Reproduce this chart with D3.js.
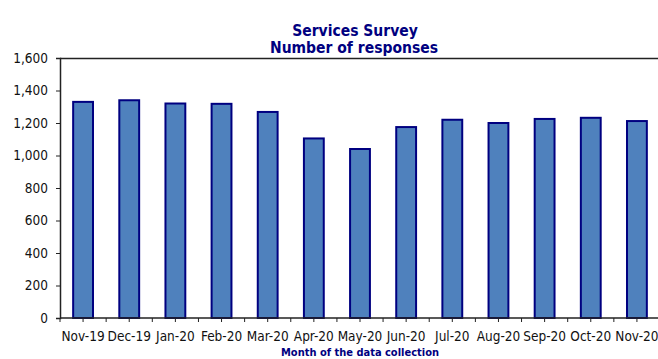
<!DOCTYPE html>
<html>
<head>
<meta charset="utf-8">
<script src="https://cdn.jsdelivr.net/npm/d3@7"></script>
<style>
  body { margin: 0; background: #fff; }
  text { font-family: Tahoma, "DejaVu Sans Condensed", "DejaVu Sans", sans-serif; }
</style>
</head>
<body>
<svg width="658" height="359"></svg>
<script>
var months = ["Nov-19", "Dec-19", "Jan-20", "Feb-20", "Mar-20", "Apr-20", "May-20",
              "Jun-20", "Jul-20", "Aug-20", "Sep-20", "Oct-20", "Nov-20"];
var responses = [1330, 1340, 1320, 1318, 1268, 1105, 1040, 1175, 1220, 1200, 1225, 1232, 1212];
var yTicks = [0, 200, 400, 600, 800, 1000, 1200, 1400, 1600];

var margin = {top: 58, right: -2, bottom: 41, left: 60},
    width = 658 - margin.left - margin.right,
    height = 359 - margin.top - margin.bottom;

var root = d3.select("svg");

var svg = root
  .append("g")
    .attr("transform", "translate(" + margin.left + "," + margin.top + ")");

var x = d3.scaleBand()
    .domain(months)
    .range([0, width])
    .paddingInner(0.57)
    .paddingOuter(0.285);

var y = d3.scaleLinear()
    .domain([0, 1600])
    .range([height, 0]);

var step = x.step();

// plot area top border
svg.append("line")
    .attr("x1", 0).attr("x2", width)
    .attr("y1", 0.5).attr("y2", 0.5)
    .attr("stroke", "#222")
    .attr("stroke-width", 1.5);

svg.selectAll(".bar")
  .data(responses)
  .enter().append("rect")
    .attr("class", "bar")
    .attr("x", function(d, i) { return x(months[i]); })
    .attr("y", function(d) { return y(d); })
    .attr("width", x.bandwidth())
    .attr("height", function(d) { return height - y(d); })
    .attr("fill", "#4f81bd")
    .attr("stroke", "#000080")
    .attr("stroke-width", 2);

// y axis
var yAxis = svg.append("g")
    .call(d3.axisLeft(y).tickValues(yTicks).tickSize(4).tickPadding(8)
      .tickFormat(d3.format(",")));
yAxis.select(".domain").attr("stroke", "#222").attr("stroke-width", 1.5);
yAxis.selectAll(".tick line").attr("stroke", "#222");
yAxis.selectAll("text").attr("font-size", 13.5).attr("fill", "#111")
    .style("font-family", 'Tahoma, "DejaVu Sans Condensed", "DejaVu Sans", sans-serif');

// x axis: ticks at category boundaries and centres
var xg = svg.append("g").attr("transform", "translate(0," + height + ")");
xg.append("line")
    .attr("x1", 0).attr("x2", width)
    .attr("stroke", "#222").attr("stroke-width", 1.5);
xg.selectAll(".tk")
  .data(d3.range(months.length * 2 + 1))
  .enter().append("line")
    .attr("class", "tk")
    .attr("x1", function(i) { return i * step / 2; })
    .attr("x2", function(i) { return i * step / 2; })
    .attr("y1", 0).attr("y2", 4)
    .attr("stroke", "#222");
xg.selectAll(".lbl")
  .data(months)
  .enter().append("text")
    .attr("class", "lbl")
    .attr("x", function(d) { return x(d) + x.bandwidth() / 2; })
    .attr("y", 23)
    .attr("text-anchor", "middle")
    .attr("font-size", 13.5)
    .attr("fill", "#111")
    .text(function(d) { return d; });

// titles
root.append("text")
    .attr("x", 355).attr("y", 36)
    .attr("text-anchor", "middle")
    .attr("font-size", 15.5).attr("font-weight", "bold")
    .attr("fill", "#000080")
    .text("Services Survey");
root.append("text")
    .attr("x", 354).attr("y", 53)
    .attr("text-anchor", "middle")
    .attr("font-size", 15.5).attr("font-weight", "bold")
    .attr("fill", "#000080")
    .text("Number of responses");
root.append("text")
    .attr("x", 360).attr("y", 356)
    .attr("text-anchor", "middle")
    .attr("font-size", 11).attr("font-weight", "bold")
    .attr("fill", "#000080")
    .text("Month of the data collection");
</script>
</body>
</html>
